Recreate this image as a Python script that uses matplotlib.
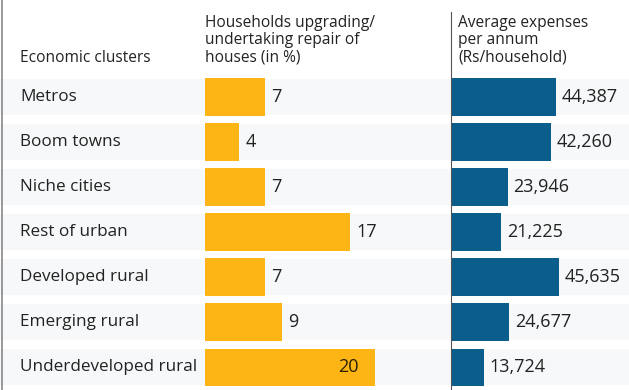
import numpy as np
import matplotlib
matplotlib.use('Agg')
import matplotlib.pyplot as plt

clusters = ['Metros', 'Boom towns', 'Niche cities', 'Rest of urban',
            'Developed rural', 'Emerging rural', 'Underdeveloped rural']
repair_pct = [7, 4, 7, 17, 7, 9, 20]
expenses = [44387, 42260, 23946, 21225, 45635, 24677, 13724]

header_clusters = ['Economic clusters']
header_repair = ['Households upgrading/', 'undertaking repair of', 'houses (in %)']
header_expenses = ['Average expenses', 'per annum', '(Rs/household)']

ORANGE = '#FDB515'
BLUE = '#0B5E8C'
TEXT = '#222222'
W, H = 629, 390

plt.rcParams.update({'font.family': ['Open Sans', 'DejaVu Sans']})
fig = plt.figure(figsize=(W / 100, H / 100), dpi=100)

top = (H - 74.5) / H   # top of the first row, figure fraction
y = np.arange(len(clusters))


def px_axes(x0, x1):
    ax = fig.add_axes([x0 / W, 0, (x1 - x0) / W, top])
    ax.set_ylim(len(clusters) - 0.5, -0.5)
    ax.axis('off')
    ax.patch.set_alpha(0)
    return ax


# row bands + category names
bg = px_axes(0, W)
bg.set_xlim(0, W)
bg.barh(y, W, height=0.8, color='#f7f8f9', zorder=0)
for i, c in enumerate(clusters):
    bg.text(20, i, c, va='center', ha='left', fontsize=12.3, color=TEXT)

# households upgrading (%)
ax1 = px_axes(205, 440)
ax1.set_xlim(0, 235 / 8.5)
ax1.barh(y, repair_pct, height=0.84, color=ORANGE)
for i, v in enumerate(repair_pct):
    if v >= 20:
        ax1.annotate(str(v), (v, i), xytext=(-12, 0), textcoords='offset points',
                     ha='right', va='center', fontsize=13, color='#2a2000')
    else:
        ax1.annotate(str(v), (v, i), xytext=(5, 0), textcoords='offset points',
                     ha='left', va='center', fontsize=13, color=TEXT)

# average expenses
ax2 = px_axes(451, W)
ax2.set_xlim(0, 178 / 0.00237)
ax2.barh(y, expenses, height=0.84, color=BLUE)
for i, v in enumerate(expenses):
    ax2.annotate(f'{v:,}', (v, i), xytext=(4, 0), textcoords='offset points',
                 ha='left', va='center', fontsize=13, color=TEXT)


# headers, one line at a time (pixel baselines)
def header(x, lines, last_base=62, step=17.5):
    n = len(lines)
    for k, s in enumerate(lines):
        yy = last_base - (n - 1 - k) * step
        fig.text(x / W, 1 - yy / H, s, fontsize=11.2, color=TEXT,
                 va='baseline', ha='left')


header(20, header_clusters)
header(205, header_repair)
header(458, header_expenses)

# rules
fig.add_artist(plt.Line2D([2 / W, 2 / W], [0, 1], color='#888888', lw=1.2))
fig.add_artist(plt.Line2D([451 / W, 451 / W], [0, 1 - 12 / H],
                          color='#555555', lw=0.8))

fig.savefig('out.png', dpi=100)
